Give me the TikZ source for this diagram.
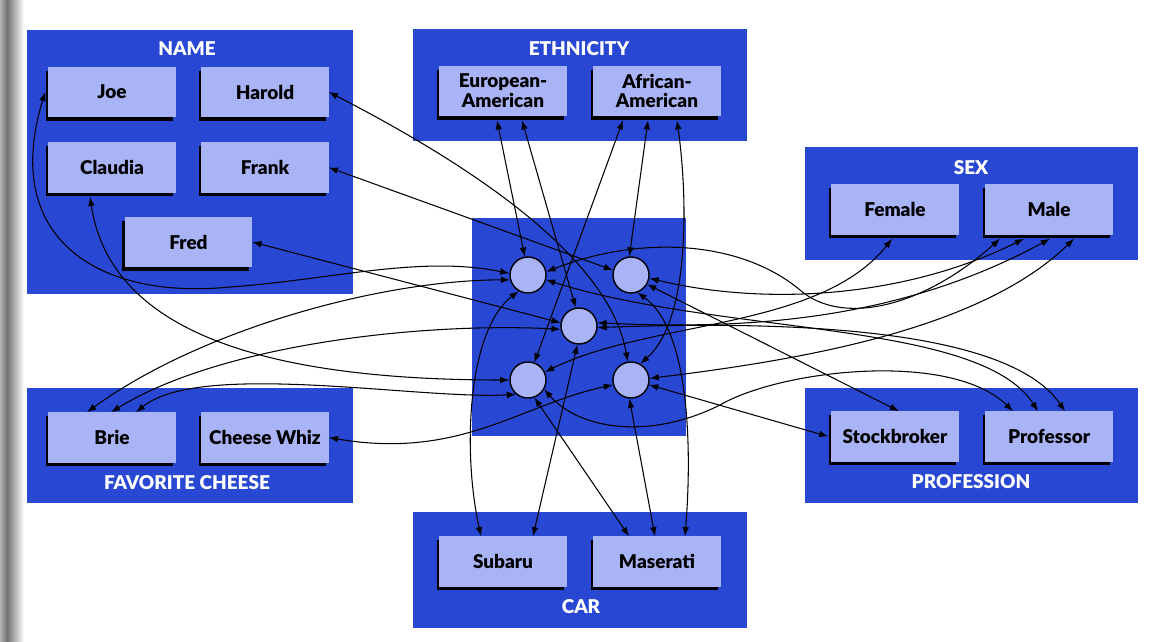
\documentclass[tikz,border=0pt]{standalone}
\usepackage{fontspec}
\setmainfont{Lato}[BoldFont={Lato Black}]
\usepackage{tikz}
\usetikzlibrary{positioning,calc,arrows.meta}
\definecolor{groupblue}{RGB}{40,72,212}
\definecolor{cardblue}{RGB}{168,180,246}

\begin{document}
\begin{tikzpicture}[x=0.025cm,y=-0.025cm,
  group/.style={fill=groupblue,inner sep=0pt},
  grouptitle/.style={text=white,inner sep=0pt,font=\bfseries\fontsize{13.5}{14}\selectfont},
  card/.style={fill=cardblue,minimum width=3.175cm,minimum height=1.25cm,inner sep=0pt,align=center,
    font=\bfseries\fontsize{13.5}{14}\selectfont,
    preaction={fill=black,transform canvas={xshift=-2.1pt,yshift=-2.8pt}}},
  unit/.style={circle,draw=black,line width=1pt,fill=cardblue,minimum size=0.9cm,inner sep=0pt},
  link/.style={<->,>={Latex[length=6.5pt,width=4.8pt]},line width=0.75pt}]
\useasboundingbox (0,0) rectangle (1163,642);
\shade[left color=black!30,right color=black!55] (0,0) rectangle (7,642);
\shade[left color=black!55,right color=white] (7,0) rectangle (24,642);

\node[group,minimum width=8.15cm,minimum height=6.6cm] (namegrp) at (190,162) {};
\node[group,minimum width=8.35cm,minimum height=2.8cm] (ethgrp) at (580,85) {};
\node[group,minimum width=8.33cm,minimum height=2.83cm] (sexgrp) at (971.5,203.5) {};
\node[group,minimum width=8.15cm,minimum height=2.88cm] (cheesegrp) at (190,445.5) {};
\node[group,minimum width=8.33cm,minimum height=2.88cm] (profgrp) at (971.5,445.5) {};
\node[group,minimum width=8.35cm,minimum height=2.9cm] (cargrp) at (580,570) {};
\node[group,minimum width=5.35cm,minimum height=5.45cm] (hub) at (579,327) {};

\node[grouptitle] (nametitle) at (187,49) {NAME};
\node[grouptitle] (ethtitle) at (579,49) {ETHNICITY};
\node[grouptitle] (sextitle) at (971,168) {SEX};
\node[grouptitle] (cheesetitle) at (187,483) {FAVORITE CHEESE};
\node[grouptitle] (proftitle) at (971,482) {PROFESSION};
\node[grouptitle] (cartitle) at (581,607) {CAR};

\node[card] (joe) at (112,92) {Joe};
\node[card] (harold) at (265,92) {Harold};
\node[card] (claudia) at (112,167.5) {Claudia};
\node[card] (frank) at (265,167.5) {Frank};
\node[card] (fred) at (188.5,242) {Fred};
\node[card] (euro) at (503,91) {European-\\American};
\node[card] (african) at (657,91) {African-\\American};
\node[card] (female) at (895,209.5) {Female};
\node[card] (male) at (1049,209.5) {Male};
\node[card] (brie) at (112,437.5) {Brie};
\node[card] (whiz) at (265,437.5) {Cheese Whiz};
\node[card] (stock) at (895,436.5) {Stockbroker};
\node[card] (prof) at (1049,436.5) {Professor};
\node[card] (subaru) at (503,561.5) {Subaru};
\node[card] (maserati) at (657,561.5) {Maserati};

\node[unit] (u1) at (528,275) {};
\node[unit] (u2) at (631,275) {};
\node[unit] (u3) at (579,326) {};
\node[unit] (u4) at (528,380) {};
\node[unit] (u5) at (631,380) {};

\draw[link] ($(joe.west)+(-3,0)$) .. controls (0,240) and (100,300) .. (230,287) .. controls (330,280) and (420,255) .. (u1.175);
\draw[link] (harold.east) .. controls (480,170) and (610,260) .. (u5.100);
\draw[link] ($(claudia.south)+(-22,4)$) .. controls (110,330) and (260,380) .. (u4.180);
\draw[link] (frank.east) -- (u2.165);
\draw[link] (fred.east) -- (u3.170);
\draw[link] ($(euro.south)+(-6,4)$) -- (u1.100);
\draw[link] ($(euro.south)+(19,4)$) -- (u3.100);
\draw[link] ($(african.south)+(-34,4)$) -- (u4.70);
\draw[link] ($(african.south)+(-9,4)$) -- (u2.95);
\draw[link] ($(african.south)+(20,4)$) .. controls (688,200) and (690,320) .. (u5.60);
\draw[link] ($(female.south)+(-3,4)$) .. controls (820,330) and (650,320) .. (u4.25);
\draw[link] ($(male.south)+(-49,4)$) .. controls (920,310) and (840,325) .. (800,290) .. controls (740,240) and (640,235) .. (u1.10);
\draw[link] ($(male.south)+(-25,4)$) .. controls (900,300) and (760,305) .. (u2.350);
\draw[link] ($(male.south)+(1,4)$) .. controls (900,320) and (750,330) .. (u3.10);
\draw[link] ($(male.south)+(25,4)$) .. controls (980,330) and (800,360) .. (u5.5);
\draw[link] ($(brie.north)+(-25,0)$) .. controls (200,330) and (380,280) .. (u1.195);
\draw[link] ($(brie.north)+(-1,0)$) .. controls (220,345) and (420,322) .. (u3.190);
\draw[link] ($(brie.north)+(24,0)$) .. controls (200,360) and (420,400) .. (u4.230);
\draw[link] (whiz.east) .. controls (460,460) and (520,405) .. (u5.195);
\draw[link] ($(stock.west)+(-3,0)$) -- (u5.345);
\draw[link] ($(stock.north)+(4,0)$) -- (u2.330);
\draw[link] ($(prof.north)+(-36,0)$) .. controls (950,350) and (780,370) .. (720,405) .. controls (650,440) and (580,430) .. (u4.330);
\draw[link] ($(prof.north)+(-11,0)$) .. controls (980,320) and (720,335) .. (u1.345);
\draw[link] ($(prof.north)+(16,0)$) .. controls (1010,330) and (800,320) .. (u3.355);
\draw[link] ($(subaru.north)+(-22,0)$) .. controls (462,450) and (468,330) .. (u1.240);
\draw[link] ($(subaru.north)+(30,0)$) -- (u3.265);
\draw[link] ($(maserati.north)+(-28,0)$) -- (u4.290);
\draw[link] ($(maserati.north)+(-2,0)$) -- (u5.265);
\draw[link] ($(maserati.north)+(28,0)$) .. controls (692,450) and (690,330) .. (u2.290);
\end{tikzpicture}
\end{document}
